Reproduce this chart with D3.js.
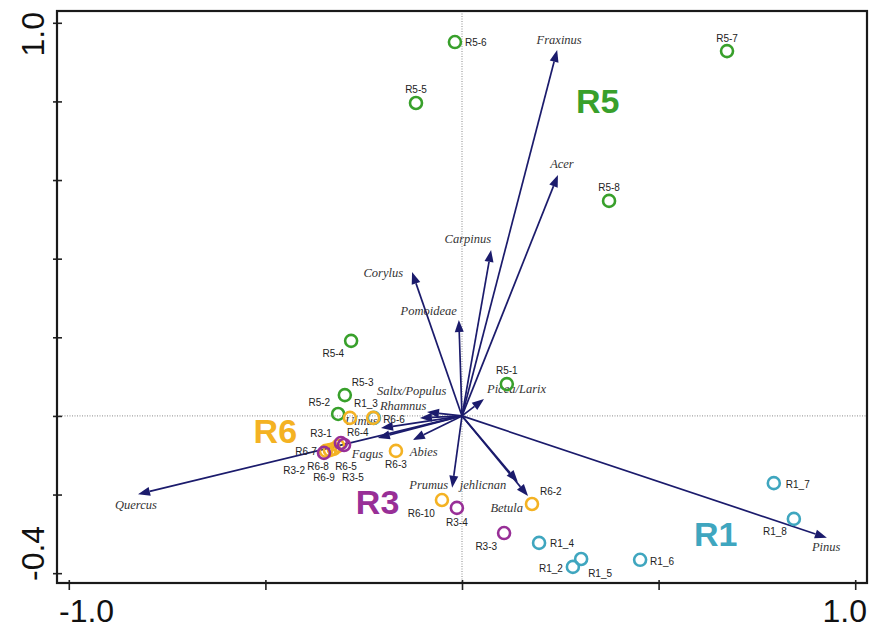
<!DOCTYPE html>
<html><head><meta charset="utf-8">
<script src="https://cdn.jsdelivr.net/npm/d3@7"></script>
<style>body{margin:0;background:#fff}svg{display:block}</style>
</head><body>
<svg id="chart" width="871" height="633"></svg>
<script>
// ---- data ----
const groups = ["R5", "R1", "R6", "R3"];
const groupColors = ["#38a02b", "#3fa6bf", "#f4b223", "#982f97"];
const groupLabelPos = [[0.29, 0.77], [0.59, -0.33], [-0.53, -0.07], [-0.27, -0.25]]; // label anchor in data units

const siteNames = ["R5-6","R5-7","R5-5","R5-8","R5-4","R5-1","R5-3","R5-2",
  "R1_3","R1_7","R1_8","R1_4","R1_5","R1_2","R1_6",
  "R6-6","R6-4","R6-7","R6-8","R6-9","R6-5","R6-3","R6-10","R6-2",
  "R3-1","R3-2","R3-5","R3-4","R3-3"];
const siteGroup = ["R5","R5","R5","R5","R5","R5","R5","R5",
  "R1","R1","R1","R1","R1","R1","R1",
  "R6","R6","R6","R6","R6","R6","R6","R6","R6",
  "R3","R3","R3","R3","R3"];
const siteX = [-0.018,0.674,-0.117,0.374,-0.282,0.114,-0.298,-0.315,
  -0.224,0.793,0.844,0.196,0.303,0.282,0.453,
  -0.226,-0.285,-0.346,-0.336,-0.326,-0.315,-0.168,-0.051,0.178,
  -0.308,-0.351,-0.300,-0.013,0.107];
const siteY = [0.951,0.928,0.796,0.547,0.191,0.081,0.053,0.005,
  -0.005,-0.171,-0.262,-0.323,-0.364,-0.384,-0.366,
  -0.005,-0.005,-0.089,-0.087,-0.084,-0.076,-0.089,-0.214,-0.224,
  -0.069,-0.094,-0.074,-0.234,-0.298];

const species = ["Fraxinus","Acer","Carpinus","Corylus","Pomoideae","Picea/Larix",
  "Saltx/Populus","Rhamnus","Ulmus","Fagus","Abies","Quercus","Prumus","jehlicnan","Betula","Pinus"];
const speciesX = [0.242,0.244,0.074,-0.127,-0.008,0.056,-0.089,-0.107,-0.206,-0.214,-0.125,-0.824,-0.025,0.142,0.168,0.928];
const speciesY = [0.931,0.613,0.422,0.366,0.244,0.043,0.010,-0.005,-0.031,-0.056,-0.061,-0.199,-0.183,-0.168,-0.204,-0.310];

const xTicks = [-1.0,-0.5,0,0.5,1.0];
const yTicks = [1.0,0.8,0.6,0.4,0.2,0,-0.2,-0.4];
const xTickLabels = ["-1.0","1.0"];
const yTickLabels = ["1.0","-0.4"];

// ---- presentation: label placement (pixel offsets from mark) ----
const siteLabelPlace = {
  "R5-6":[10,4,"start"],"R5-7":[0,-9,"middle"],"R5-5":[0,-10,"middle"],"R5-8":[0,-10,"middle"],
  "R5-4":[-7,16,"end"],"R5-1":[0,-10,"middle"],"R5-3":[7,-9,"start"],"R5-2":[-8,-8,"end"],
  "R1_3":[4,-11,"end"],"R1_7":[12,5,"start"],"R1_8":[-7,16,"end"],"R1_4":[11,4,"start"],
  "R1_5":[7,18,"start"],"R1_2":[-10,5,"end"],"R1_6":[10,5,"start"],
  "R6-6":[10,5,"start"],"R6-4":[-3,18,"start"],"R6-7":[-9,4,"end"],"R6-8":[-1,20,"end"],
  "R6-9":[1,32,"end"],"R6-5":[-3,24,"start"],"R6-3":[0,17,"middle"],"R6-10":[-7,17,"end"],"R6-2":[8,-9,"start"],
  "R3-1":[-9,-6,"end"],"R3-2":[-19,21,"end"],"R3-5":[-2,36,"start"],"R3-4":[0,18,"middle"],"R3-3":[-7,17,"end"]
};
const speciesLabelPlace = {
  "Fraxinus":[2,-6,"middle"],"Acer":[4,-7,"middle"],"Carpinus":[0,-7,"end"],"Corylus":[-9,5,"end"],
  "Pomoideae":[-2,-5,"end"],"Picea/Larix":[3,-6,"start"],"Saltx/Populus":[-50,-17,"start"],
  "Rhamnus":[-40,-8,"start"],"Ulmus":[-36,-3,"start"],"Fagus":[-26,20,"start"],"Abies":[-3,16,"start"],
  "Quercus":[-23,15,"start"],"Prumus":[-4,1,"end"],"jehlicnan":[-58,7,"start"],"Betula":[-5,16,"end"],"Pinus":[-15,13,"start"]
};

// ---- scales ----
const svg = d3.select("#chart");
const L = 57, R = 867, T = 11, B = 583;
const x = d3.scaleLinear().domain([-1.03, 1.03]).range([L, R]);
const y = d3.scaleLinear().domain([-0.425, 1.03]).range([B, T]);
const colorOf = d3.scaleOrdinal().domain(groups).range(groupColors);
const navy = "#1b1b6c";

// dotted zero lines
svg.append("line").attr("x1", x(0)).attr("x2", x(0)).attr("y1", T).attr("y2", B)
  .attr("stroke", "#8a8a8a").attr("stroke-width", 1).attr("stroke-dasharray", "1,1.5");
svg.append("line").attr("x1", L).attr("x2", R).attr("y1", y(0)).attr("y2", y(0))
  .attr("stroke", "#8a8a8a").attr("stroke-width", 1).attr("stroke-dasharray", "1,1.5");

// axes (ticks crossing the frame)
const xAxis = d3.axisBottom(x).tickValues(xTicks).tickSize(10).tickFormat("");
const gx = svg.append("g").attr("transform", `translate(0,${B - 3})`).call(xAxis);
gx.select(".domain").remove();
gx.selectAll("line").attr("stroke", "#222").attr("stroke-width", 1.6);
const yAxis = d3.axisLeft(y).tickValues(yTicks).tickSize(9).tickFormat("");
const gy = svg.append("g").attr("transform", `translate(${L + 5},0)`).call(yAxis);
gy.select(".domain").remove();
gy.selectAll("line").attr("stroke", "#222").attr("stroke-width", 1.6);

// frame
svg.append("rect").attr("x", L).attr("y", T).attr("width", R - L).attr("height", B - T)
  .attr("fill", "none").attr("stroke", "#1a1a1a").attr("stroke-width", 2.2);

// tick labels
const tickFont = "Liberation Sans, Arial, sans-serif";
svg.append("text").attr("x", L + 2).attr("y", 622).attr("text-anchor", "start")
  .attr("font-family", tickFont).attr("font-size", 32).attr("fill", "#111").text(xTickLabels[0]);
svg.append("text").attr("x", R).attr("y", 622).attr("text-anchor", "end")
  .attr("font-family", tickFont).attr("font-size", 32).attr("fill", "#111").text(xTickLabels[1]);
svg.append("text").attr("transform", `translate(44,${T + 1}) rotate(-90)`).attr("text-anchor", "end")
  .attr("font-family", tickFont).attr("font-size", 32).attr("fill", "#111").text(yTickLabels[0]);
svg.append("text").attr("transform", `translate(44,${B - 2}) rotate(-90)`).attr("text-anchor", "start")
  .attr("font-family", tickFont).attr("font-size", 32).attr("fill", "#111").text(yTickLabels[1]);

// species arrows
const spData = species.map((s, i) => ({ name: s, x: speciesX[i], y: speciesY[i] }));
const ag = svg.append("g");
spData.forEach(d => {
  const x0 = x(0), y0 = y(0), x1 = x(d.x), y1 = y(d.y);
  const ang = Math.atan2(y1 - y0, x1 - x0);
  const hl = 12, hw = 4.5;
  const bx = x1 - hl * Math.cos(ang), by = y1 - hl * Math.sin(ang);
  ag.append("line").attr("x1", x0).attr("y1", y0).attr("x2", bx).attr("y2", by)
    .attr("stroke", navy).attr("stroke-width", 1.7);
  const px = -Math.sin(ang), py = Math.cos(ang);
  ag.append("path").attr("d", `M${x1},${y1}L${bx + hw * px},${by + hw * py}L${bx - hw * px},${by - hw * py}Z`)
    .attr("fill", navy);
});
// species labels
svg.append("g").selectAll("text").data(spData).join("text")
  .attr("x", d => x(d.x) + speciesLabelPlace[d.name][0])
  .attr("y", d => y(d.y) + speciesLabelPlace[d.name][1])
  .attr("text-anchor", d => speciesLabelPlace[d.name][2])
  .attr("font-family", "Liberation Serif, Times New Roman, serif").attr("font-style", "italic")
  .attr("font-size", 12.5).attr("fill", "#333").text(d => d.name);

// sites
const sites = siteNames.map((n, i) => ({ name: n, g: siteGroup[i], x: siteX[i], y: siteY[i] }));
svg.append("g").selectAll("circle").data(sites).join("circle")
  .attr("cx", d => x(d.x)).attr("cy", d => y(d.y)).attr("r", 6)
  .attr("fill", "none").attr("stroke", d => colorOf(d.g)).attr("stroke-width", 2.6);
svg.append("g").selectAll("text").data(sites).join("text")
  .attr("x", d => x(d.x) + siteLabelPlace[d.name][0])
  .attr("y", d => y(d.y) + siteLabelPlace[d.name][1])
  .attr("text-anchor", d => siteLabelPlace[d.name][2])
  .attr("font-family", "Liberation Sans, Arial, sans-serif").attr("font-size", 10)
  .attr("fill", "#222").text(d => d.name);

// group labels
svg.append("g").selectAll("text").data(groups).join("text")
  .attr("x", (d, i) => x(groupLabelPos[i][0])).attr("y", (d, i) => y(groupLabelPos[i][1]))
  .attr("font-family", "Liberation Sans, Arial, sans-serif").attr("font-weight", "bold")
  .attr("font-size", 34).attr("fill", d => colorOf(d)).text(d => d);
</script>
</body></html>
